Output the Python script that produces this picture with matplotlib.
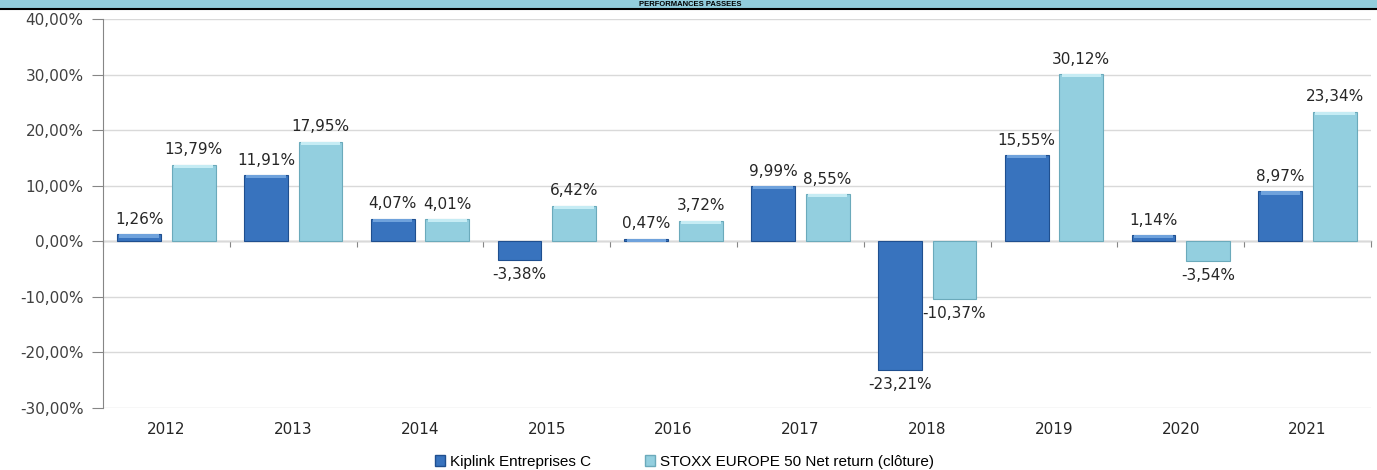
"""
Performances passees - Kiplink Entreprises C vs STOXX EUROPE 50 NR
Grouped bars, 2012-2021, french number format
"""

import numpy as np
import matplotlib
matplotlib.use("Agg")
import matplotlib.pyplot as plt
from matplotlib.patches import Rectangle
from matplotlib.lines import Line2D

# ── Data ─────────────────────────────────────────────────────────
years = ["2012", "2013", "2014", "2015", "2016", "2017", "2018", "2019", "2020", "2021"]
fund = [1.26, 11.91, 4.07, -3.38, 0.47, 9.99, -23.21, 15.55, 1.14, 8.97]
index = [13.79, 17.95, 4.01, 6.42, 3.72, 8.55, -10.37, 30.12, -3.54, 23.34]
series_names = ["Kiplink Entreprises C", "STOXX EUROPE 50 Net return (clôture)"]
y_ticks = [-30, -20, -10, 0, 10, 20, 30, 40]

C_FUND, C_FUND_EDGE = "#3873BE", "#1F4F8F"
C_IDX, C_IDX_EDGE = "#93CFDF", "#6BAABB"
TXT = "#262626"
FS = 11


def fr_pct(v, dec=2):
    return f"{v:.{dec}f}".replace(".", ",") + "%"


# ── Figure ───────────────────────────────────────────────────────
W, H = 1377, 470
fig = plt.figure(figsize=(W / 100, H / 100), dpi=100, facecolor="white")

# title bar
fig.patches.append(Rectangle((0, 1 - 8 / H), 1, 8 / H, transform=fig.transFigure,
                             facecolor="#92CDDC", edgecolor="none", zorder=0))
fig.lines.append(Line2D([0, 1], [1 - 8.5 / H, 1 - 8.5 / H], transform=fig.transFigure,
                        color="black", linewidth=1.5))
fig.text(0.501, 1 - 4 / H, "PERFORMANCES PASSEES", ha="center", va="center",
         fontsize=5.5, fontweight="bold", family="Liberation Sans", color="black")

ax = fig.add_axes([103 / W, 1 - 408 / H, 1268 / W, (408 - 19) / H])

x = np.arange(len(years))
bw = 0.345
off = 0.215
b1 = ax.bar(x - off, fund, bw, color=C_FUND, edgecolor=C_FUND_EDGE, linewidth=0.8, zorder=3)
b2 = ax.bar(x + off, index, bw, color=C_IDX, edgecolor=C_IDX_EDGE, linewidth=0.8, zorder=3)

# light bevel on the top end of each positive bar
for bars, hl in ((b1, "#6FA2DC"), (b2, "#C6ECF4")):
    for r in bars:
        h = r.get_height()
        if h >= 0:
            ax.bar(r.get_x() + r.get_width() / 2, -0.6, r.get_width() * 0.9,
                   bottom=h, color=hl, edgecolor="none", zorder=4)

# data labels
for xs, vals in ((x - off, fund), (x + off, index)):
    for xi, v in zip(xs, vals):
        if v >= 0:
            ax.text(xi, v + 1.3, fr_pct(v), ha="center", va="bottom",
                    fontsize=FS, color=TXT, zorder=5)
        else:
            ax.text(xi, v - 1.2, fr_pct(v), ha="center", va="top",
                    fontsize=FS, color=TXT, zorder=5)

ax.set_xlim(-0.5, len(years) - 0.5)
ax.set_ylim(-30, 40)
ax.set_yticks(y_ticks)
ax.set_yticklabels([fr_pct(v) for v in y_ticks])
ax.yaxis.grid(True, color="#D9D9D9", linewidth=1.0, zorder=0)
ax.set_axisbelow(True)

ax.set_xticks(x)
ax.set_xticklabels(years)
ax.tick_params(axis="x", length=0, pad=10, labelsize=FS, labelcolor=TXT)
ax.tick_params(axis="y", length=8, width=0.8, color="#868686", pad=6,
               labelsize=FS, labelcolor="#404040")

for s in ("top", "right", "bottom"):
    ax.spines[s].set_visible(False)
ax.spines["left"].set_color("#868686")
ax.spines["left"].set_linewidth(0.8)

# category axis through zero, ticks between categories
y0 = (0 - (-30)) / (40 - (-30))
sec = ax.secondary_xaxis(y0)
sec.set_xticks(np.arange(len(years) + 1) - 0.5)
sec.set_xticklabels([])
sec.tick_params(length=4, width=0.8, color="#868686", direction="out")
sec.spines["bottom"].set_color("#A6A6A6")
sec.spines["bottom"].set_linewidth(1.0)

# legend
handles = [Rectangle((0, 0), 1, 1, facecolor=C_FUND, edgecolor=C_FUND_EDGE),
           Rectangle((0, 0), 1, 1, facecolor=C_IDX, edgecolor=C_IDX_EDGE)]
fig.legend(handles, series_names, loc="center", bbox_to_anchor=(0.497, 8 / H),
           ncol=2, frameon=False, handlelength=0.7, handleheight=0.7,
           handletextpad=0.3, columnspacing=3.5,
           prop={"family": "Liberation Sans", "size": 11})

fig.savefig("out.png", dpi=100, facecolor="white")
plt.close(fig)
